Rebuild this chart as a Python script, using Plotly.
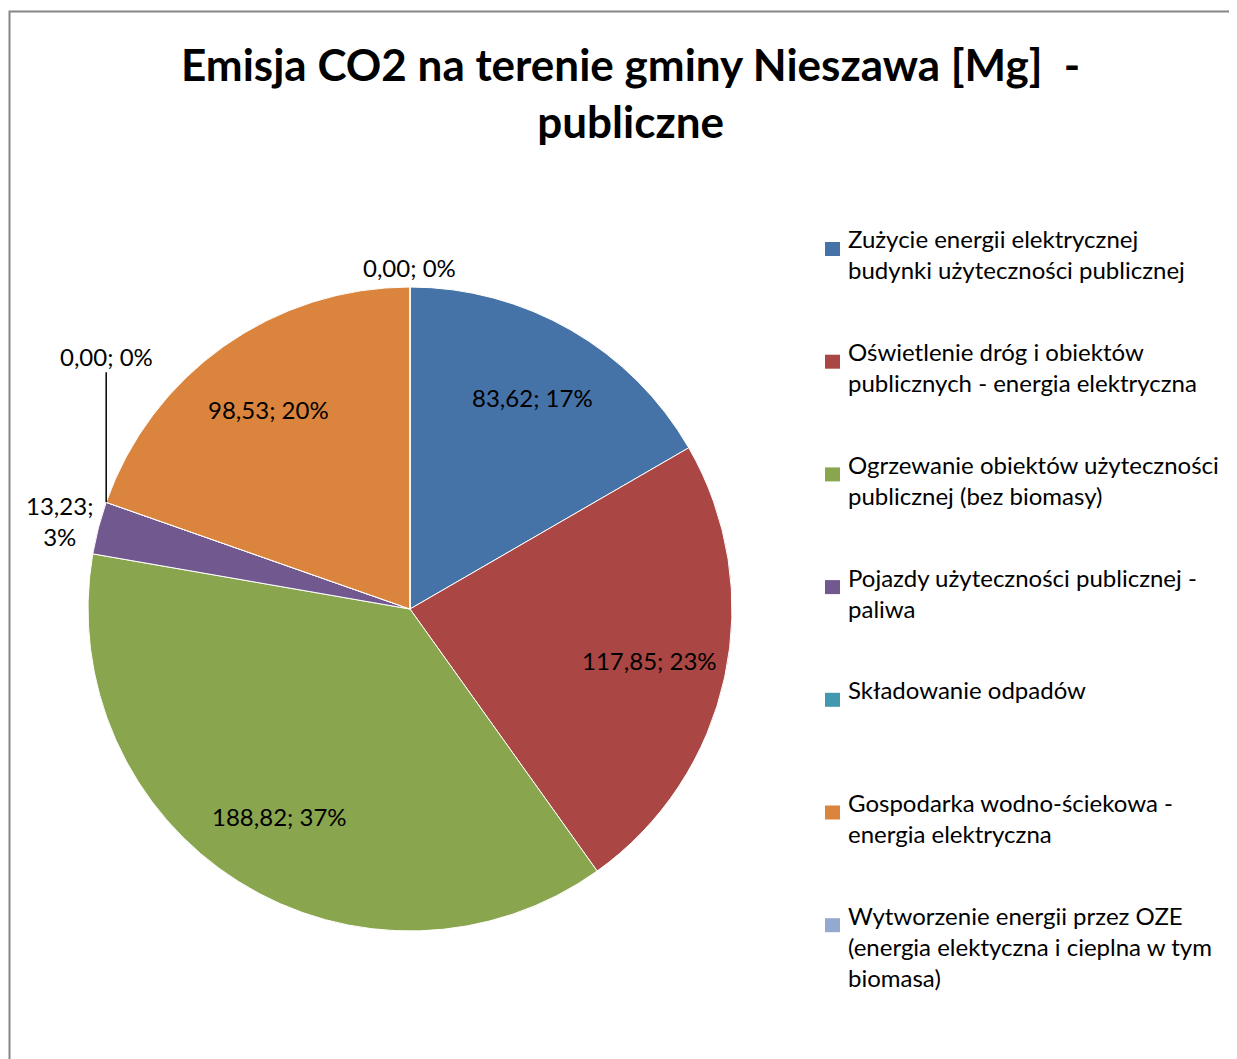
import math
import plotly.graph_objects as go

# dane
kategorie = [
    "Zużycie energii elektrycznej<br>budynki użyteczności publicznej",
    "Oświetlenie dróg i obiektów<br>publicznych - energia elektryczna",
    "Ogrzewanie obiektów użyteczności<br>publicznej (bez biomasy)",
    "Pojazdy użyteczności publicznej -<br>paliwa",
    "Składowanie odpadów",
    "Gospodarka wodno-ściekowa -<br>energia elektryczna",
    "Wytworzenie energii przez OZE<br>(energia elektyczna i cieplna w tym<br>biomasa)",
]
emisja = [83.62, 117.85, 188.82, 13.23, 0.00, 98.53, 0.00]
procent = [17, 23, 37, 3, 0, 20, 0]  # tak jak na etykietach wykresu
kolory = ["#4572A7", "#AA4643", "#89A54E", "#71588F", "#4198AF", "#DB843D", "#93A9CF"]

W, H = 1237, 1059
OFF = 8  # margines strony
cx, cy, R = 410, 609, 322
FONT = "Lato"
FS = 24


def px(x, y):
    return (x - OFF) / (W - OFF), 1 - (y - OFF) / (H - OFF)


def fmt(v, p):
    return f"{v:.2f}".replace(".", ",") + "; " + f"{p}%"


suma = sum(emisja)
dx0, dy0 = px(cx - R, cy + R)
dx1, dy1 = px(cx + R, cy - R)

fig = go.Figure(go.Pie(
    labels=kategorie,
    values=emisja,
    marker=dict(colors=kolory, line=dict(color="white", width=1)),
    sort=False,
    direction="clockwise",
    rotation=0,
    textinfo="none",
    showlegend=False,
    domain=dict(x=[dx0, dx1], y=[dy0, dy1]),
    hoverinfo="label+value+percent",
))

adnotacje = []
ksztalty = []

# etykiety danych
kat = [0]
for v in emisja:
    kat.append(kat[-1] + v / suma * 360)

for i, v in enumerate(emisja):
    t = fmt(v, procent[i])
    if v / suma > 0.05:
        a = math.radians((kat[i] + kat[i + 1]) / 2)
        x, y = px(cx + 0.76 * R * math.sin(a), cy - 0.76 * R * math.cos(a))
        adnotacje.append(dict(x=x, y=y, showarrow=False, text=t))
    elif v > 0:
        a = math.radians((kat[i] + kat[i + 1]) / 2)
        x, y = px(cx + (R + 4) * math.sin(a), cy - (R + 4) * math.cos(a))
        adnotacje.append(dict(x=x, y=y, xanchor="right", yshift=6,
                              showarrow=False, align="center", text=t.replace(" ", "<br>")))
    elif i == len(emisja) - 1:
        a = math.radians(kat[i])
        x, y = px(cx + R * math.sin(a), cy - R * math.cos(a))
        adnotacje.append(dict(x=x, y=y, yanchor="bottom", yshift=3, showarrow=False, text=t))
    else:
        a = math.radians(kat[i])
        x, y = px(cx + R * math.sin(a), cy - R * math.cos(a))
        adnotacje.append(dict(x=x, y=y, showarrow=True, arrowhead=0, arrowwidth=1.5,
                              arrowcolor="black", ax=0, ay=-146, text=t))

# legenda
LX, LY, LSTEP = 825, 239, 112.7
for i, k in enumerate(kategorie):
    yc = LY + i * LSTEP
    x, y = px(LX + 21, yc - FS * 0.65 - 1)
    adnotacje.append(dict(x=x, y=y, xanchor="left", yanchor="top", align="left",
                          showarrow=False, text=k))
    x0, y0 = px(LX, yc + 3)
    x1, y1 = px(LX + 15, yc + 17)
    ksztalty.append(dict(type="rect", x0=x0, x1=x1, y0=y0, y1=y1,
                         fillcolor=kolory[i], line=dict(width=0)))

# tytuł
tx, ty = px(630, 93)
adnotacje.append(dict(x=tx, y=ty, showarrow=False, font=dict(size=44),
                      text="<b>Emisja CO2 na terenie gminy Nieszawa [Mg] \u00a0-<br>publiczne</b>"))

for a in adnotacje:
    a["xref"] = "paper"
    a["yref"] = "paper"
    a.setdefault("xanchor", "center")
    a.setdefault("yanchor", "middle")
for s in ksztalty:
    s["xref"] = "paper"
    s["yref"] = "paper"

# ramka wykresu
bx0, by1 = px(9.5, 11.5)
ksztalty.append(dict(type="rect", xref="paper", yref="paper", x0=bx0, x1=1.05, y0=-0.05, y1=by1,
                     line=dict(color="#868686", width=2)))

fig.update_layout(
    width=W - OFF,
    height=H - OFF,
    margin=dict(l=0, r=0, t=0, b=0),
    paper_bgcolor="white",
    font=dict(family=FONT, size=FS, color="black"),
    showlegend=False,
    annotations=adnotacje,
    shapes=ksztalty,
)

fig.write_html("out.html")
